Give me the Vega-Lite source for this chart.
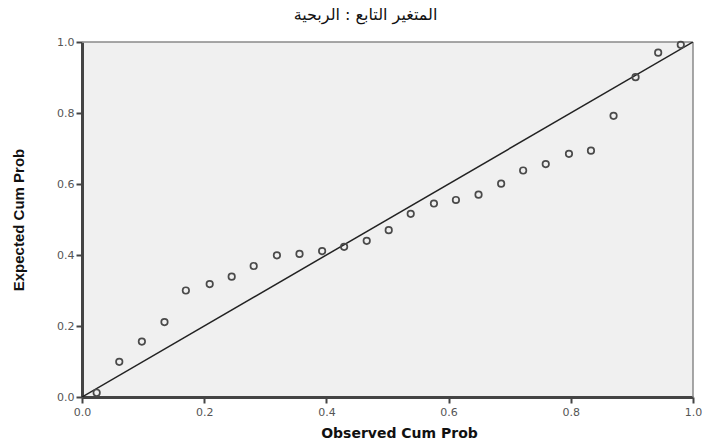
{
  "$schema": "https://vega.github.io/schema/vega-lite/v6.json",
  "autosize": {"type": "none"},
  "padding": {"left": 82, "top": 42, "right": 10, "bottom": 46},
  "width": 611,
  "height": 355,
  "background": "white",
  "title": {
    "text": "المتغير التابع : الربحية",
    "font": "DejaVu Sans",
    "fontSize": 16,
    "fontWeight": "normal",
    "color": "#111",
    "anchor": "middle",
    "offset": 13,
    "dx": -22
  },
  "config": {
    "view": {"fill": "#f0f0f0", "stroke": null},
    "axis": {
      "grid": false,
      "domainColor": "#444",
      "domainWidth": 3,
      "tickColor": "#444",
      "tickWidth": 2,
      "tickSize": 6,
      "labelColor": "#555",
      "labelFont": "DejaVu Sans",
      "labelFontSize": 11,
      "labelFlush": false,
      "titleColor": "#111",
      "titleFontWeight": "bold"
    }
  },
  "layer": [
    {
      "data": {"values": [{"fx": 0, "fy": 1, "fx2": 1, "fy2": 1}, {"fx": 1, "fy": 0, "fx2": 1, "fy2": 1}]},
      "mark": {"type": "rule", "color": "#8a8a8a", "strokeWidth": 1.5},
      "encoding": {
        "x": {"field": "fx", "type": "quantitative"},
        "y": {"field": "fy", "type": "quantitative"},
        "x2": {"field": "fx2"},
        "y2": {"field": "fy2"}
      }
    },
    {
      "data": {"values": [{"ox": 0, "ey": 0}, {"ox": 1, "ey": 1}]},
      "mark": {"type": "line", "color": "#222", "strokeWidth": 1.5, "clip": true},
      "encoding": {
        "x": {"field": "ox", "type": "quantitative", "scale": {"domain": [0, 1], "nice": false, "zero": false},
          "axis": {"title": "Observed Cum Prob", "titleFont": "DejaVu Sans", "titleFontSize": 14, "titlePadding": 9, "titleX": 317, "values": [0, 0.2, 0.4, 0.6, 0.8, 1.0], "format": ".1f", "labelPadding": 3}},
        "y": {"field": "ey", "type": "quantitative", "scale": {"domain": [0, 1], "nice": false, "zero": false},
          "axis": {"title": "Expected Cum Prob", "titleFont": "Liberation Sans Narrow, Liberation Sans", "titleFontSize": 15, "titlePadding": 30, "values": [0, 0.2, 0.4, 0.6, 0.8, 1.0], "format": ".1f", "labelPadding": 2}}
      }
    },
    {
      "data": {"values": [
        {"ox": 0.024, "ey": 0.012},
        {"ox": 0.061, "ey": 0.099},
        {"ox": 0.098, "ey": 0.156},
        {"ox": 0.135, "ey": 0.211},
        {"ox": 0.170, "ey": 0.300},
        {"ox": 0.209, "ey": 0.318},
        {"ox": 0.245, "ey": 0.339},
        {"ox": 0.281, "ey": 0.369},
        {"ox": 0.319, "ey": 0.399},
        {"ox": 0.356, "ey": 0.403},
        {"ox": 0.393, "ey": 0.411},
        {"ox": 0.429, "ey": 0.423},
        {"ox": 0.466, "ey": 0.440},
        {"ox": 0.502, "ey": 0.470},
        {"ox": 0.538, "ey": 0.516},
        {"ox": 0.576, "ey": 0.545},
        {"ox": 0.612, "ey": 0.555},
        {"ox": 0.649, "ey": 0.570},
        {"ox": 0.686, "ey": 0.601},
        {"ox": 0.722, "ey": 0.638},
        {"ox": 0.759, "ey": 0.656},
        {"ox": 0.797, "ey": 0.685},
        {"ox": 0.833, "ey": 0.694},
        {"ox": 0.870, "ey": 0.792},
        {"ox": 0.906, "ey": 0.901},
        {"ox": 0.943, "ey": 0.970},
        {"ox": 0.980, "ey": 0.992}
      ]},
      "mark": {"type": "point", "shape": "circle", "filled": false, "stroke": "#4a4a4a", "strokeWidth": 1.7, "size": 42, "opacity": 1},
      "encoding": {
        "x": {"field": "ox", "type": "quantitative"},
        "y": {"field": "ey", "type": "quantitative"}
      }
    }
  ]
}
